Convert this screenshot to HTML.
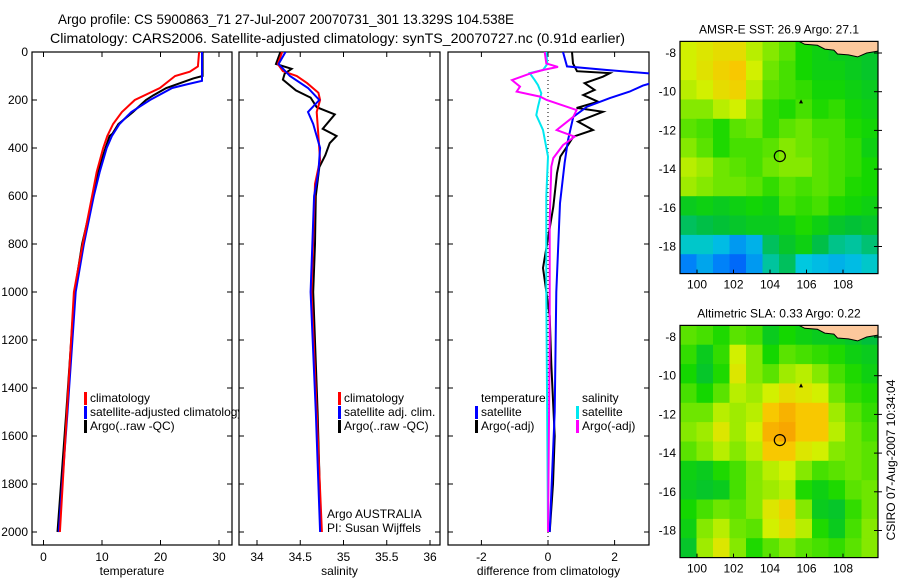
<!DOCTYPE html>
<html><head><meta charset="utf-8"><style>
html,body{margin:0;padding:0;background:#fff;}
svg{display:block;font-family:"Liberation Sans",sans-serif;}
text{font-size:12px;fill:#000;}
</style></head><body>
<svg id="c" width="900" height="580" viewBox="0 0 900 580" xmlns="http://www.w3.org/2000/svg">
<text x="58" y="24" textLength="456" lengthAdjust="spacingAndGlyphs" style="font-size:14px">Argo profile: CS 5900863_71 27-Jul-2007 20070731_301 13.329S 104.538E</text>
<text x="50" y="43" textLength="575" lengthAdjust="spacingAndGlyphs" style="font-size:14px">Climatology: CARS2006. Satellite-adjusted climatology: synTS_20070727.nc (0.91d earlier)</text>
<defs><clipPath id="cp1"><rect x="32" y="52" width="207" height="494"/></clipPath>
<clipPath id="cp2"><rect x="239" y="52" width="209" height="494"/></clipPath>
<clipPath id="cp3"><rect x="448" y="52" width="201" height="494"/></clipPath>
<clipPath id="cm1"><rect x="680" y="41.5" width="198" height="231.5"/></clipPath>
<clipPath id="cm2"><rect x="680" y="325" width="198" height="232"/></clipPath></defs>
<g id="g"></g>
<text transform="translate(895,460) rotate(-90)" text-anchor="middle">CSIRO 07-Aug-2007 10:34:04</text>
</svg>
<script>
// ---- data ----
const tClimDepth=[0,60,82,100,150,200,250,300,350,400,500,600,800,1000,1500,2000];
const tClimVal=[26.6,26.4,25,22.5,19.9,15.6,13.4,11.9,10.9,10.2,9.1,8.3,6.7,5.2,4.0,2.8];
const tSatDepth=[0,120,135,150,200,250,300,350,400,500,600,800,1000,1500,2000];
const tSatVal=[27.1,27.1,24.5,22,18.2,15,13,11.7,10.8,9.6,8.6,6.9,5.5,4.1,2.6];
const tArgoDepth=[0,100,110,150,180,200,250,300,340,350,400,500,600,800,1000,1500,2000];
const tArgoVal=[27.2,27.2,25.6,21,18.8,17.5,15.3,12.8,11.8,11.3,10.6,9.3,8.5,6.6,5.3,3.9,2.4];
const sClimDepth=[0,50,80,100,130,170,200,250,350,450,550,1000,1500,2000];
const sClimVal=[34.29,34.24,34.3,34.46,34.58,34.71,34.73,34.69,34.71,34.73,34.67,34.63,34.69,34.75];
const sSatDepth=[0,50,100,150,200,250,300,400,500,600,1000,1500,2000];
const sSatVal=[34.33,34.25,34.38,34.59,34.72,34.59,34.65,34.73,34.71,34.66,34.62,34.68,34.73];
const sArgoDepth=[0,50,70,90,115,160,190,230,260,320,350,380,430,480,600,800,1000,1500,2000];
const sArgoVal=[34.27,34.22,34.4,34.32,34.3,34.45,34.62,34.69,34.9,34.76,34.92,34.84,34.79,34.72,34.68,34.67,34.65,34.7,34.74];
const dTSatDepth=[0,60,75,90,130,140,165,192,228,270,367,463,630,1000,1500,2000];
const dTSatVal=[0.45,0.57,1.77,3.1,3.1,2.85,2.45,1.86,1.17,0.76,0.6,0.5,0.36,0.25,0.2,0.05];
const dTArgoDepth=[0,48,80,88,103,130,158,179,207,233,249,290,325,353,388,436,505,645,900,950,1100,1300,1600,1800,2000];
const dTArgoVal=[0.72,0.75,0.87,1.86,1.65,1.1,1.4,1.06,1.5,0.86,1.65,0.9,1.35,0.76,0.6,0.37,0.27,0.16,-0.15,-0.1,0.05,0.1,0.2,0.15,0.05];
const dSArgoDepth=[0,48,62,75,88,117,144,165,186,200,242,270,325,353,388,442,478,700,1200,2000];
const dSArgoVal=[-0.1,-0.05,0.3,-0.15,-0.5,-1.08,-0.84,-0.94,-0.24,-0.04,0.86,0.76,0.26,0.8,0.45,0.16,0.1,0.05,0.05,0.0];
const dSSatDepth=[0,50,75,88,117,138,172,228,263,325,436,600,1000,2000];
const dSSatVal=[-0.05,-0.02,-0.15,-0.55,-0.4,-0.3,-0.2,-0.3,-0.35,-0.15,0.0,-0.05,-0.05,0.0];
const depthTicks=[0,200,400,600,800,1000,1200,1400,1600,1800,2000];
const tempTicks=[0,10,20,30];
const salTicks=[34,34.5,35,35.5,36];
const salTickLabels=["34","34.5","35","35.5","36"];
const diffTicks=[-2,0,2];
const lonTicks=[100,102,104,106,108];
const latTicks=[-8,-10,-12,-14,-16,-18];
const sstGrid=[
[0.72,0.74,0.76,0.76,0.70,0.66,0.62,0.55,0.52,0.50,0.50,0.48],
[0.72,0.75,0.78,0.80,0.72,0.64,0.60,0.55,0.52,0.52,0.50,0.48],
[0.70,0.72,0.76,0.78,0.70,0.62,0.60,0.58,0.54,0.54,0.52,0.50],
[0.66,0.66,0.70,0.72,0.66,0.58,0.56,0.60,0.56,0.58,0.54,0.52],
[0.62,0.60,0.56,0.62,0.64,0.58,0.62,0.64,0.60,0.60,0.56,0.54],
[0.66,0.62,0.56,0.60,0.60,0.62,0.66,0.64,0.62,0.60,0.58,0.52],
[0.70,0.68,0.64,0.62,0.60,0.64,0.66,0.66,0.62,0.60,0.58,0.55],
[0.68,0.66,0.64,0.64,0.62,0.58,0.62,0.60,0.62,0.60,0.56,0.55],
[0.50,0.52,0.50,0.52,0.54,0.52,0.60,0.58,0.60,0.56,0.54,0.52],
[0.42,0.44,0.46,0.48,0.50,0.50,0.52,0.56,0.52,0.48,0.46,0.48],
[0.32,0.32,0.28,0.22,0.26,0.42,0.48,0.52,0.44,0.38,0.36,0.40],
[0.18,0.24,0.18,0.14,0.22,0.36,0.42,0.30,0.28,0.26,0.28,0.32]];
const slaGrid=[
[0.62,0.60,0.56,0.62,0.60,0.50,0.55,0.52,0.50,0.50,0.48,0.45],
[0.58,0.50,0.58,0.72,0.66,0.55,0.62,0.60,0.58,0.56,0.52,0.50],
[0.55,0.48,0.56,0.74,0.66,0.62,0.68,0.70,0.66,0.60,0.56,0.52],
[0.60,0.55,0.62,0.70,0.68,0.72,0.76,0.74,0.72,0.64,0.58,0.56],
[0.64,0.64,0.70,0.68,0.70,0.80,0.84,0.80,0.80,0.68,0.62,0.58],
[0.66,0.68,0.74,0.68,0.72,0.84,0.86,0.80,0.80,0.70,0.64,0.60],
[0.62,0.66,0.70,0.66,0.70,0.80,0.80,0.74,0.72,0.66,0.64,0.62],
[0.52,0.50,0.56,0.60,0.66,0.70,0.72,0.66,0.60,0.62,0.64,0.62],
[0.50,0.48,0.50,0.60,0.66,0.68,0.70,0.56,0.52,0.56,0.62,0.64],
[0.55,0.60,0.64,0.62,0.66,0.74,0.78,0.66,0.50,0.48,0.58,0.64],
[0.52,0.66,0.70,0.64,0.62,0.72,0.76,0.70,0.56,0.50,0.60,0.66],
[0.48,0.68,0.74,0.66,0.56,0.62,0.66,0.62,0.60,0.58,0.62,0.66]];
const argoLon=104.538, argoLat=-13.329;

// ---- scales ----
const NS='http://www.w3.org/2000/svg';
const G=document.getElementById('g');
function mk(tag,at,parent){const e=document.createElementNS(NS,tag);for(const k in at)e.setAttribute(k,at[k]);(parent||G).appendChild(e);return e;}
const yD=d=>52+0.24*d;
const xT=t=>43.5+5.85*t;
const xS=s=>257+86.5*(s-34);
const xDf=v=>548+33.3*v;
const xLon=l=>697+18.25*(l-100);
const yLat=(l,off)=>53+off+19.35*(-8-l);

function line(ds,vs,xf,col,w,clip,name){
  const pts=ds.map((d,i)=>xf(vs[i]).toFixed(1)+','+yD(d).toFixed(1)).join(' ');
  const p=mk('polyline',{points:pts,fill:'none',stroke:col,'stroke-width':w,'clip-path':'url(#'+clip+')'});
  
  
}
function panel(x0,x1,ticks,labels,xf,title,name){
  const r=mk('rect',{x:x0,y:52,width:x1-x0,height:493,fill:'none',stroke:'#000','stroke-width':1.2});
  
  
  ticks.forEach((t,i)=>{const x=xf(t);
    mk('line',{x1:x,x2:x,y1:52,y2:57,stroke:'#000'});
    mk('line',{x1:x,x2:x,y1:545,y2:540,stroke:'#000'});
    const tx=mk('text',{x:x,y:561,'text-anchor':'middle'});tx.textContent=labels[i];
    
    
  });
  depthTicks.forEach(d=>{const y=yD(d);
    mk('line',{x1:x0,x2:x0+5,y1:y,y2:y,stroke:'#000'});
    mk('line',{x1:x1,x2:x1-5,y1:y,y2:y,stroke:'#000'});});
  const t=mk('text',{x:(x0+x1)/2,y:575,'text-anchor':'middle'});t.textContent=title;
  
  
}
panel(32,232,tempTicks,tempTicks.map(String),xT,'temperature','temperature-panel');
panel(239,440,salTicks,salTickLabels,xS,'salinity','salinity-panel');
panel(448,649,diffTicks,diffTicks.map(String),xDf,'difference from climatology','difference-panel');
depthTicks.forEach(d=>{const t=mk('text',{x:28,y:yD(d)+4,'text-anchor':'end'});t.textContent=String(d);
  
  });
mk('line',{x1:xDf(0),x2:xDf(0),y1:52,y2:545,stroke:'#000','stroke-dasharray':'1,3'});

line(tArgoDepth,tArgoVal,xT,'#000',2,'cp1','temp-argo-line');
line(tSatDepth,tSatVal,xT,'#0000ff',2,'cp1','temp-satellite-line');
line(tClimDepth,tClimVal,xT,'#ff0000',2,'cp1','temp-climatology-line');
line(sArgoDepth,sArgoVal,xS,'#000',2,'cp2','sal-argo-line');
line(sClimDepth,sClimVal,xS,'#ff0000',2,'cp2','sal-climatology-line');
line(sSatDepth,sSatVal,xS,'#0000ff',2,'cp2','sal-satellite-line');
line(dTArgoDepth,dTArgoVal,xDf,'#000',2,'cp3','diff-temp-argo-line');
line(dTSatDepth,dTSatVal,xDf,'#0000ff',2,'cp3','diff-temp-satellite-line');
line(dSSatDepth,dSSatVal,xDf,'#00e8f0',2,'cp3','diff-sal-satellite-line');
line(dSArgoDepth,dSArgoVal,xDf,'#ff00ff',2,'cp3','diff-sal-argo-line');

function legend(x,y,col,label,clip){
  if(col)mk('rect',{x:x-6,y:y-10,width:3,height:13,fill:col});
  const t=mk('text',{x:x,y:y});t.textContent=label;
  if(clip)t.setAttribute('clip-path','url(#'+clip+')');
  
  
}
legend(90,402,'#ff0000','climatology');
legend(90,416,'#0000ff','satellite-adjusted climatology','cp1');
legend(90,430,'#000','Argo(..raw -QC)');
legend(344,402,'#ff0000','climatology');
legend(344,416,'#0000ff','satellite adj. clim.');
legend(344,430,'#000','Argo(..raw -QC)');
legend(327,518,null,'Argo AUSTRALIA');
legend(327,532,null,'PI: Susan Wijffels');
legend(481,402,null,'temperature');
legend(481,416,'#0000ff','satellite');
legend(481,430,'#000','Argo(-adj)');
legend(582,402,null,'salinity');
legend(582,416,'#00e8f0','satellite');
legend(582,430,'#ff00ff','Argo(-adj)');

// ---- maps ----
const stops=[[0,[0,0,160]],[0.15,[0,112,255]],[0.3,[0,200,224]],[0.45,[0,190,60]],[0.55,[20,215,0]],[0.65,[120,232,0]],[0.72,[210,240,0]],[0.8,[248,200,0]],[0.9,[248,144,0]],[1,[240,80,0]]];
function cmap(v){for(let i=1;i<stops.length;i++){if(v<=stops[i][0]){const a=stops[i-1],b=stops[i],f=(v-a[0])/(b[0]-a[0]);
  return 'rgb('+a[1].map((c,k)=>Math.round(c+(b[1][k]-c)*f)).join(',')+')';}}return 'rgb(240,80,0)';}
function map(grid,off,clip,title,name){
  const lon0=99.07,lon1=109.92,lat0=-7.4,lat1=-19.4;
  const nr=grid.length,nc=grid[0].length;
  const dl=(lon1-lon0)/nc,dt=(lat0-lat1)/nr;
  const g=mk('g',{'clip-path':'url(#'+clip+')'});
  
  
  grid.forEach((row,r)=>row.forEach((v,c)=>{
    const x=xLon(lon0+c*dl),y=yLat(lat0-r*dt,off);
    const cell=mk('rect',{x:x.toFixed(1),y:y.toFixed(1),width:(18.25*dl+0.6).toFixed(1),height:(19.35*dt+0.6).toFixed(1),fill:cmap(v)},g);
    
    
  }));
  const coast=[[105.6,-7.4],[105.9,-7.55],[106.6,-7.6],[107.0,-7.8],[107.5,-7.85],[107.7,-8.05],[108.3,-8.1],[108.8,-8.2],[109.3,-8.0],[109.92,-7.9]];
  const cp=coast.map(p=>xLon(p[0]).toFixed(1)+','+yLat(p[1],off).toFixed(1)).join(' ');
  const land=mk('polygon',{points:cp+' '+xLon(109.92)+','+yLat(-7.4,off),fill:'#fcc89c'},g);
  
  
  mk('polyline',{points:cp,fill:'none',stroke:'#000','stroke-width':1},g);
  const ix=xLon(105.7),iy=yLat(-10.5,off);
  mk('polygon',{points:`${ix-2},${iy+2} ${ix+2},${iy+2} ${ix},${iy-2}`,fill:'#000'},g);
  const c=mk('circle',{cx:xLon(argoLon),cy:yLat(argoLat,off),r:5.5,fill:'none',stroke:'#000','stroke-width':1.2});
  
  
  const b=mk('rect',{x:680,y:yLat(lat0,off),width:198,height:yLat(lat1,off)-yLat(lat0,off),fill:'none',stroke:'#000','stroke-width':1.2});
  
  
  const yb=yLat(lat1,off);
  lonTicks.forEach(l=>{const x=xLon(l);mk('line',{x1:x,x2:x,y1:yb,y2:yb-4,stroke:'#000'});
    const t=mk('text',{x:x,y:yb+15,'text-anchor':'middle'});t.textContent=String(l);
    
    });
  latTicks.forEach(l=>{const y=yLat(l,off);mk('line',{x1:878,x2:874,y1:y,y2:y,stroke:'#000'});mk('line',{x1:878,x2:882,y1:y,y2:y,stroke:'#000'});
    const t=mk('text',{x:676,y:y+4,'text-anchor':'end'});t.textContent=String(l);
    
    });
  const tt=mk('text',{x:779,y:yLat(lat0,off)-8,'text-anchor':'middle'});tt.textContent=title;
  
  
}
map(sstGrid,0,'cm1','AMSR-E SST: 26.9 Argo: 27.1','sst-map');
map(slaGrid,284,'cm2','Altimetric SLA: 0.33 Argo: 0.22','sla-map');
</script>
</body></html>
